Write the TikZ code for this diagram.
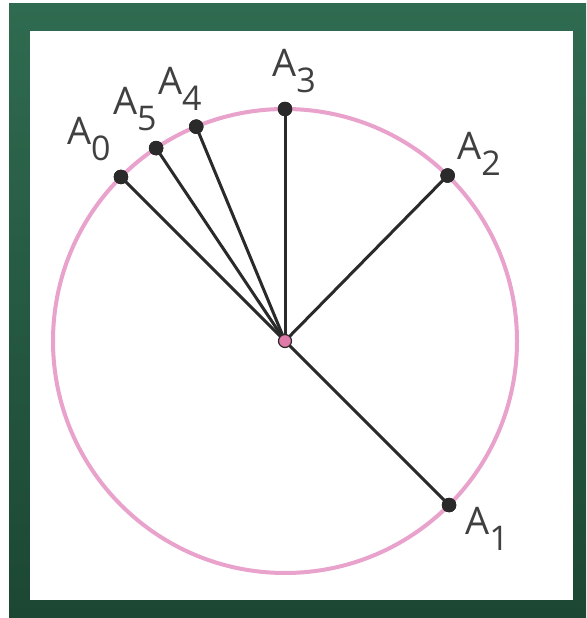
\documentclass[tikz,border=0pt]{standalone}
\usepackage{fontspec}
\setmainfont{Open Sans}
\usetikzlibrary{calc}
\definecolor{frameA}{HTML}{2F6B50}
\definecolor{frameB}{HTML}{1C4733}
\definecolor{ringpink}{HTML}{E8A2CB}
\definecolor{dotgray}{HTML}{2A2A2A}
\definecolor{txtgray}{HTML}{404040}
\definecolor{cpink}{HTML}{E07AA8}
\newcommand{\albl}[1]{A\raisebox{-16pt}{\fontsize{34}{34}\selectfont #1}}
\begin{document}
\begin{tikzpicture}[x=1pt,y=1pt,
  ptdot/.style={circle,fill=dotgray,draw=dotgray,inner sep=0pt,minimum size=14pt},
  ctr/.style={circle,fill=cpink,draw=dotgray,line width=1.2pt,inner sep=0pt,minimum size=13pt},
  spoke/.style={draw=dotgray,line width=3pt},
  ring/.style={draw=ringpink,line width=4pt},
  lbl/.style={anchor=base west,inner sep=0pt,text=txtgray,font=\fontsize{38}{38}\selectfont}]
\useasboundingbox (0,0) rectangle (586,618);
\fill[white] (0,0) rectangle (586,618);
\shade[top color=frameA,bottom color=frameB] (9,0) rectangle (586,614);
\fill[white] (30,18) rectangle (573,587);
\coordinate (O) at (285,277);
\draw[ring] (O) circle (232);
\node[ptdot] (P0) at ($(O)+(135:232)$) {};
\node[ptdot] (P1) at ($(O)+(-45:232)$) {};
\node[ptdot] (P2) at ($(O)+(45.5:232)$) {};
\node[ptdot] (P3) at ($(O)+(90:232)$) {};
\node[ptdot] (P4) at ($(O)+(112.5:232)$) {};
\node[ptdot] (P5) at ($(O)+(123.75:232)$) {};
\foreach \i in {0,...,5} {\draw[spoke] (O) -- (P\i.center);}
\foreach \i in {0,...,5} {\node[ptdot] at (P\i) {};}
\node[ctr] (C) at (O) {};
\node[lbl] (L0) at (67,473) {\albl{0}};
\node[lbl] (L5) at (113,503) {\albl{5}};
\node[lbl] (L4) at (158,523) {\albl{4}};
\node[lbl] (L3) at (272,541) {\albl{3}};
\node[lbl] (L2) at (457,458) {\albl{2}};
\node[lbl] (L1) at (465,83) {\albl{1}};
\end{tikzpicture}
\end{document}
